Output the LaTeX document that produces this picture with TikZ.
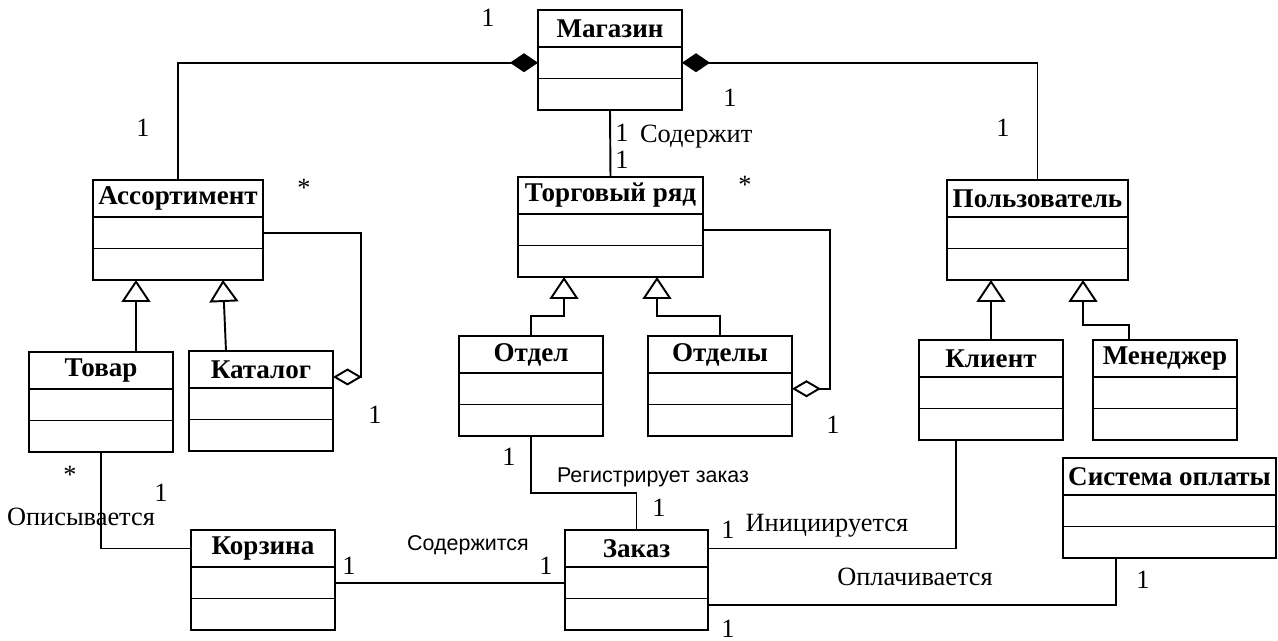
\documentclass[tikz,border=0pt]{standalone}
\usepackage{fontspec}
\setmainfont{Liberation Serif}
\newfontfamily\lsans{Liberation Sans}
\usepackage{tikz}
\usetikzlibrary{positioning, arrows.meta}

\begin{document}
\begin{tikzpicture}[
    cname/.style={draw, line width=1.1pt, outer sep=0pt, inner sep=1pt,
                  minimum width=#1, minimum height=0.74cm,
                  font=\bfseries\fontsize{15.4}{17}\selectfont},
    cpart/.style={draw, line width=1.1pt, outer sep=0pt,
                  minimum width=#1, minimum height=0.63cm},
    assoc/.style={line width=1.1pt},
    comp/.style={line width=1.1pt, {Diamond[length=0.56cm, width=0.38cm]}-},
    aggr/.style={line width=1.1pt, {Diamond[open, length=0.58cm, width=0.34cm]}-},
    gen/.style={line width=1.1pt, -{Triangle[open, length=0.44cm, width=0.58cm]}},
    mult/.style={font=\fontsize{15}{17}\selectfont, inner sep=0.5pt},
    role/.style={font=\fontsize{15}{17}\selectfont, inner sep=1pt},
    srole/.style={font=\lsans\fontsize{12.2}{14}\selectfont, inner sep=1pt},
]
\useasboundingbox (0,0) rectangle (25.56,12.82);

% Top level
\node[cname=2.88cm] (mag) at (12.2, 12.25) {Магазин};
\node[cpart=2.88cm, below=0pt of mag] (mag-a) {};
\node[cpart=2.88cm, below=0pt of mag-a] (mag-o) {};

% Second row
\node[cname=3.4cm] (assort) at (3.56, 8.85) {Ассортимент};
\node[cpart=3.4cm, below=0pt of assort] (assort-a) {};
\node[cpart=3.4cm, below=0pt of assort-a] (assort-o) {};

\node[cname=3.7cm] (row) at (12.21, 8.91) {Торговый ряд};
\node[cpart=3.7cm, below=0pt of row] (row-a) {};
\node[cpart=3.7cm, below=0pt of row-a] (row-o) {};

\node[cname=3.62cm] (user) at (20.75, 8.85) {Пользователь};
\node[cpart=3.62cm, below=0pt of user] (user-a) {};
\node[cpart=3.62cm, below=0pt of user-a] (user-o) {};

% Third row
\node[cname=2.88cm] (tovar) at (2.02, 5.41) {Товар};
\node[cpart=2.88cm, below=0pt of tovar] (tovar-a) {};
\node[cpart=2.88cm, below=0pt of tovar-a] (tovar-o) {};

\node[cname=2.88cm] (kat) at (5.22, 5.43) {Каталог};
\node[cpart=2.88cm, below=0pt of kat] (kat-a) {};
\node[cpart=2.88cm, below=0pt of kat-a] (kat-o) {};

\node[cname=2.88cm] (otdel) at (10.62, 5.73) {Отдел};
\node[cpart=2.88cm, below=0pt of otdel] (otdel-a) {};
\node[cpart=2.88cm, below=0pt of otdel-a] (otdel-o) {};

\node[cname=2.88cm] (otdely) at (14.4, 5.73) {Отделы};
\node[cpart=2.88cm, below=0pt of otdely] (otdely-a) {};
\node[cpart=2.88cm, below=0pt of otdely-a] (otdely-o) {};

\node[cname=2.88cm] (klient) at (19.82, 5.65) {Клиент};
\node[cpart=2.88cm, below=0pt of klient] (klient-a) {};
\node[cpart=2.88cm, below=0pt of klient-a] (klient-o) {};

\node[cname=2.88cm] (mgr) at (23.3, 5.65) {Менеджер};
\node[cpart=2.88cm, below=0pt of mgr] (mgr-a) {};
\node[cpart=2.88cm, below=0pt of mgr-a] (mgr-o) {};

\node[cname=4.26cm] (pay) at (23.39, 3.29) {Система оплаты};
\node[cpart=4.26cm, below=0pt of pay] (pay-a) {};
\node[cpart=4.26cm, below=0pt of pay-a] (pay-o) {};

% Bottom row
\node[cname=2.88cm] (korz) at (5.26, 1.85) {Корзина};
\node[cpart=2.88cm, below=0pt of korz] (korz-a) {};
\node[cpart=2.88cm, below=0pt of korz-a] (korz-o) {};

\node[cname=2.86cm] (zakaz) at (12.73, 1.85) {Заказ};
\node[cpart=2.86cm, below=0pt of zakaz] (zakaz-a) {};
\node[cpart=2.86cm, below=0pt of zakaz-a] (zakaz-o) {};

% Composition and aggregation
\draw[comp] (mag-a.west) -| (assort.north);
\draw[comp] (mag-a.east) -| (user.north);
\draw[assoc] (mag-o.south) -- (row.north);
\draw[aggr] ([yshift=-0.15cm]kat.east) -- ++(0.56,0) |- (assort-a.east);
\draw[aggr] (otdely-a.east) -- ++(0.76,0) |- (row-a.east);

% Generalization
\draw[gen] ([xshift=0.7cm]tovar.north) -- ([xshift=-0.84cm]assort-o.south);
\draw[gen] ([xshift=-0.7cm]kat.north) -- ([xshift=0.9cm]assort-o.south);
\draw[gen] (otdel.north) -- ++(0,0.4) -| ([xshift=-0.93cm]row-o.south);
\draw[gen] (otdely.north) -- ++(0,0.4) -| ([xshift=0.93cm]row-o.south);
\draw[gen] (klient.north) -- (klient.north |- user-o.south);
\draw[gen] ([xshift=-0.72cm]mgr.north) -- ++(0,0.3) -| ([xshift=0.91cm]user-o.south);

% Associations
\draw[assoc] (tovar-o.south) |- (korz.west);
\draw[assoc] (korz-a.east) -- (zakaz-a.west);
\draw[assoc] (otdel-o.south) -- ++(0,-1.14) -| (zakaz.north);
\draw[assoc] (zakaz.east) -| ([xshift=-0.7cm]klient-o.south);
\draw[assoc] ([yshift=0.19cm]zakaz-o.east) -| ([xshift=-1.07cm]pay-o.south);

% Multiplicities
\node[mult] (m1) at (9.76, 12.46) {1};
\node[mult] (m2) at (14.6, 10.86) {1};
\node[mult] (m3) at (12.44, 10.16) {1};
\node[mult] (m4) at (12.44, 9.62) {1};
\node[mult] (m5) at (2.86, 10.26) {1};
\node[mult] (s1) at (6.08, 9.06) {*};
\node[mult] (s2) at (14.9, 9.12) {*};
\node[mult] (m6) at (20.06, 10.26) {1};
\node[mult] (m7) at (7.5, 4.52) {1};
\node[mult] (m8) at (16.66, 4.32) {1};
\node[mult] (s3) at (1.4, 3.32) {*};
\node[mult] (m9) at (3.22, 2.96) {1};
\node[mult] (m10) at (6.98, 1.5) {1};
\node[mult] (m11) at (10.92, 1.5) {1};
\node[mult] (m12) at (10.18, 3.68) {1};
\node[mult] (m13) at (13.18, 2.66) {1};
\node[mult] (m14) at (14.56, 2.22) {1};
\node[mult] (m15) at (22.86, 1.22) {1};
\node[mult] (m16) at (14.56, 0.24) {1};

% Association names
\node[role, anchor=west] (contains) at (12.76, 10.08) {Содержит};
\node[role] (described) at (1.62, 2.48) {Описывается};
\node[srole] (incart) at (9.36, 1.92) {Содержится};
\node[srole] (registers) at (13.06, 3.28) {Регистрирует заказ};
\node[role] (initiated) at (16.54, 2.3) {Инициируется};
\node[role] (paid) at (18.3, 1.28) {Оплачивается};

\end{tikzpicture}
\end{document}
